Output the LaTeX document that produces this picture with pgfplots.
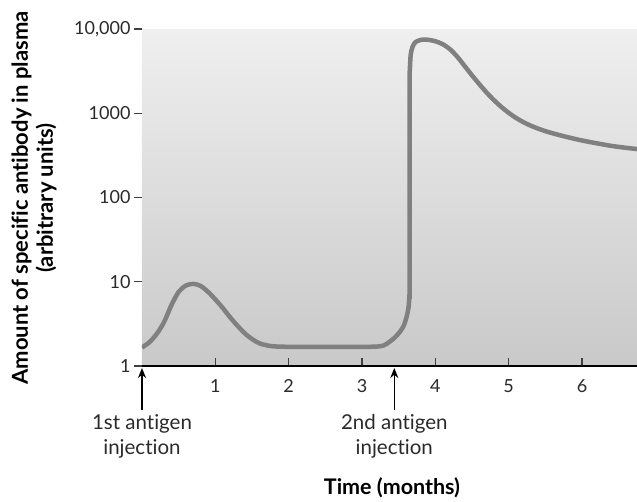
\documentclass[border=0pt]{standalone}
\usepackage{pgfplots}
\pgfplotsset{compat=1.18}
\usetikzlibrary{arrows.meta}
\usepackage{fontspec}
\setmainfont{Lato}[Ligatures=NoCommon]
\definecolor{curve}{HTML}{808080}
\definecolor{bgtop}{HTML}{EFEFEF}
\definecolor{bgbot}{HTML}{C9C9C9}
\definecolor{txt}{HTML}{2A2A2A}
\begin{document}
\begin{tikzpicture}
\begin{axis}[
  at={(0,0)}, anchor=south west,
  scale only axis, width=495pt, height=337pt,
  xmin=0, xmax=6.75, ymode=log, ymin=1, ymax=10000,
  separate axis lines,
  axis x line*=bottom, axis y line*=left,
  x axis line style={black, line width=1.6pt},
  y axis line style={draw=none},
  axis background/.style={top color=bgtop, bottom color=bgbot},
  xtick={1,2,3,4,5,6},
  ytick={1,10,100,1000,10000},
  yticklabels={1,10,100,1000,{10,000}},
  xtick align=inside, ytick align=outside,
  xtick pos=bottom, ytick pos=left,
  major tick length=8pt,
  tick style={black!75, line width=1.1pt},
  yminorticks=false,
  /pgf/number format/assume math mode=true,
  tick label style={font=\fontsize{18}{21}\selectfont, text=txt},
  xticklabel style={yshift=-10pt},
  clip=true,
]
\addplot[color=curve, line width=4.5pt, smooth, tension=0.5] coordinates {
(0,1.66) (0.1,1.91) (0.2,2.40) (0.3,3.31) (0.4,5.25) (0.5,7.59) (0.6,9.02)
(0.7,9.44) (0.8,8.91) (0.9,7.59) (1.0,6.17) (1.1,4.90) (1.2,3.80) (1.3,3.02)
(1.4,2.45) (1.5,2.09) (1.6,1.86) (1.7,1.76) (1.8,1.71) (2.0,1.69) (2.5,1.69)
(3.0,1.69) (3.2,1.70) (3.3,1.76) (3.38,1.95) (3.45,2.19) (3.52,2.57) (3.57,3.02)
(3.61,3.89) (3.635,5.01) (3.645,6.7) (3.65,10) (3.65,2000)
(3.655,3548) (3.665,5012) (3.69,6166) (3.73,7000) (3.8,7413) (3.87,7500)
(3.95,7328) (4.0,7161) (4.1,6607) (4.2,5754) (4.3,4677) (4.4,3631) (4.5,2818)
(4.6,2213) (4.7,1758) (4.8,1429) (4.9,1189) (5.0,1012) (5.1,881) (5.2,785)
(5.3,713) (5.4,658) (5.5,614) (5.6,578) (5.8,521) (6.0,475) (6.2,440)
(6.4,410) (6.6,389) (6.75,376)
};
\end{axis}
\draw[-{Stealth[length=10pt,width=8pt]}, line width=1.6pt, black] (0pt,-44pt) -- (0pt,-2pt);
\draw[-{Stealth[length=10pt,width=8pt]}, line width=1.6pt, black] (252.3pt,-44pt) -- (252.3pt,-2pt);
\node[anchor=north, align=center, font=\fontsize{20.5}{25}\selectfont, text=txt] at (0pt,-45pt) {1st antigen\\injection};
\node[anchor=north, align=center, font=\fontsize{20.5}{25}\selectfont, text=txt] at (252.3pt,-45pt) {2nd antigen\\injection};
\node[font=\bfseries\fontsize{21.5}{25}\selectfont] at (250pt,-122pt) {Time (months)};
\node[rotate=90, align=center, font=\bfseries\fontsize{22}{25}\selectfont] at (-108pt,168pt) {Amount of specific antibody in plasma\\(arbitrary units)};
\pgfresetboundingbox
\path[use as bounding box] (-142pt,-135pt) rectangle (495pt,366pt);
\end{tikzpicture}
\end{document}
